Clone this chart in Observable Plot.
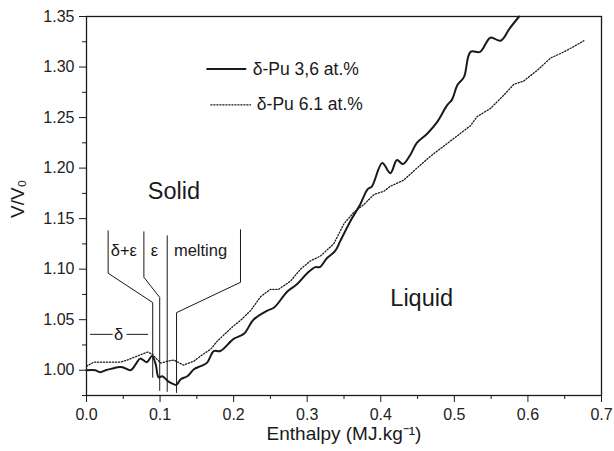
<!DOCTYPE html>
<html><head><meta charset="utf-8">
<script src="https://cdn.jsdelivr.net/npm/d3@7"></script>
<script src="https://cdn.jsdelivr.net/npm/@observablehq/plot@0.6"></script>
<style>body{margin:0;background:#fff;}</style>
</head><body><div id="chart"></div>
<script>
// δ-Pu 3,6 at.% (solid)
const solidX = [0.000,0.012,0.019,0.026,0.037,0.042,0.049,0.060,0.067,0.073,0.082,0.089,0.094,0.098,0.103,0.111,0.116,0.122,0.128,0.137,0.146,0.155,0.164,0.173,0.182,0.200,0.214,0.227,0.246,0.255,0.273,0.286,0.300,0.311,0.317,0.327,0.338,0.345,0.359,0.372,0.382,0.388,0.402,0.413,0.422,0.430,0.440,0.449,0.463,0.477,0.490,0.497,0.504,0.513,0.522,0.535,0.549,0.563,0.575,0.588];
const solidY = [1.000,1.000,0.998,1.000,1.002,1.003,1.003,1.000,1.006,1.0115,1.008,1.014,1.006,0.993,0.994,0.989,0.987,0.9855,0.991,0.994,1.001,1.004,1.0075,1.019,1.019,1.031,1.036,1.050,1.059,1.062,1.078,1.085,1.096,1.102,1.102,1.111,1.118,1.128,1.148,1.164,1.179,1.182,1.205,1.195,1.208,1.204,1.213,1.225,1.234,1.246,1.262,1.268,1.282,1.290,1.315,1.315,1.329,1.326,1.338,1.350];
// δ-Pu 6.1 at.% (dotted)
const dottedX = [0.000,0.010,0.046,0.055,0.083,0.089,0.101,0.110,0.119,0.132,0.146,0.155,0.169,0.178,0.200,0.209,0.223,0.237,0.250,0.261,0.277,0.291,0.304,0.318,0.336,0.350,0.363,0.377,0.391,0.404,0.413,0.431,0.449,0.468,0.486,0.504,0.522,0.531,0.549,0.567,0.581,0.594,0.613,0.631,0.649,0.669,0.676];
const dottedY = [1.004,1.008,1.008,1.010,1.018,1.016,1.007,1.009,1.010,1.005,1.009,1.014,1.021,1.029,1.044,1.049,1.059,1.073,1.080,1.080,1.088,1.100,1.108,1.113,1.125,1.145,1.156,1.164,1.174,1.177,1.182,1.188,1.200,1.212,1.222,1.232,1.242,1.251,1.259,1.272,1.283,1.286,1.297,1.309,1.315,1.323,1.326];

const seriesNames = ["δ-Pu 3,6 at.%", "δ-Pu 6.1 at.%"];
const xTicks = [0,0.1,0.2,0.3,0.4,0.5,0.6,0.7];
const xMinor = [0.05,0.15,0.25,0.35,0.45,0.55,0.65];
const yTicks = [1.00,1.05,1.10,1.15,1.20,1.25,1.30,1.35];
const yMinor = [0.975,1.025,1.075,1.125,1.175,1.225,1.275,1.325];

// phase annotation brackets (data units)
const bracketId = ["de","de","de","de","e","e","e","e","m","m","mt","mt","mt","mt","d1","d1","d2","d2"];
const bracketX = [0.0294,0.0294,0.090,0.090, 0.078,0.078,0.0995,0.0995, 0.1097,0.1097, 0.2093,0.2093,0.1224,0.1224, 0.0054,0.035, 0.055,0.083];
const bracketY = [1.138,1.096,1.067,0.993, 1.137,1.092,1.072,0.980, 1.133,0.979, 1.139,1.087,1.057,0.978, 1.0355,1.0355, 1.0355,1.0355];
const phaseLabels = ["δ+ε","ε","melting","δ"];
const phaseX = [0.0507,0.0924,0.155,0.0435];
const phaseY = [1.118,1.118,1.118,1.0355];
const regionLabels = ["Solid","Liquid"];
const regionX = [0.1187,0.4556];
const regionY = [1.177,1.071];

const solid = solidX.map((x,i)=>({x, y: solidY[i]}));
const dotted = dottedX.map((x,i)=>({x, y: dottedY[i]}));
const brackets = bracketX.map((x,i)=>({id: bracketId[i], x, y: bracketY[i]}));
const phases = phaseLabels.map((t,i)=>({t, x: phaseX[i], y: phaseY[i]}));
const regions = regionLabels.map((t,i)=>({t, x: regionX[i], y: regionY[i]}));
const legendSolid = [{x:0.164,y:1.298},{x:0.216,y:1.298}];
const legendDot = [{x:0.169,y:1.2626},{x:0.223,y:1.2626}];

const ink = "#1a1a1a";
const chart = Plot.plot({
  width: 614, height: 451,
  marginLeft: 86, marginRight: 13, marginTop: 16, marginBottom: 56,
  style: {fontFamily: "'Liberation Sans', Arial, sans-serif", fontSize: "16px", color: "#222", background: "#fff"},
  x: {domain: [0, 0.7]},
  y: {domain: [0.975, 1.35]},
  marks: [
    Plot.axisX({ticks: xTicks, tickFormat: d3.format(".1f"), tickSize: 7, tickPadding: 6, label: null, fontSize: 16, stroke: ink}),
    Plot.axisX({ticks: xMinor, tickSize: 4, text: null, label: null, stroke: ink}),
    Plot.axisY({ticks: yTicks, tickFormat: d3.format(".2f"), tickSize: 7, tickPadding: 5, label: null, fontSize: 16, stroke: ink}),
    Plot.axisY({ticks: yMinor, tickSize: 4, text: null, label: null, stroke: ink}),
    Plot.frame({stroke: ink, strokeWidth: 1.3}),
    Plot.line(brackets, {x: "x", y: "y", z: "id", stroke: ink, strokeWidth: 1}),
    Plot.line(dotted, {x: "x", y: "y", stroke: ink, strokeWidth: 1.3, strokeDasharray: "1.2,1.8"}),
    Plot.line(solid, {x: "x", y: "y", stroke: ink, strokeWidth: 2, curve: "catmull-rom"}),
    Plot.text(phases, {x: "x", y: "y", text: "t", fontSize: 16.5, fill: ink}),
    Plot.text(regions, {x: "x", y: "y", text: "t", fontSize: 23.5, fill: ink}),
    Plot.line(legendSolid, {x: "x", y: "y", stroke: ink, strokeWidth: 2}),
    Plot.line(legendDot, {x: "x", y: "y", stroke: ink, strokeWidth: 1.3, strokeDasharray: "1.2,1.8"}),
    Plot.text([seriesNames[0]], {x: 0.226, y: 1.298, textAnchor: "start", fontSize: 17.5, fill: ink}),
    Plot.text([seriesNames[1]], {x: 0.2315, y: 1.2626, textAnchor: "start", fontSize: 17.5, fill: ink}),
    Plot.text(["Enthalpy (MJ.kg⁻¹)"], {frameAnchor: "bottom", dy: 44, fontSize: 19, fill: ink}),
    Plot.text(["V/V₀"], {frameAnchor: "left", rotate: -90, dx: -69, dy: 12, fontSize: 19, fill: ink})
  ]
});
document.getElementById("chart").appendChild(chart);
</script>
</body></html>
